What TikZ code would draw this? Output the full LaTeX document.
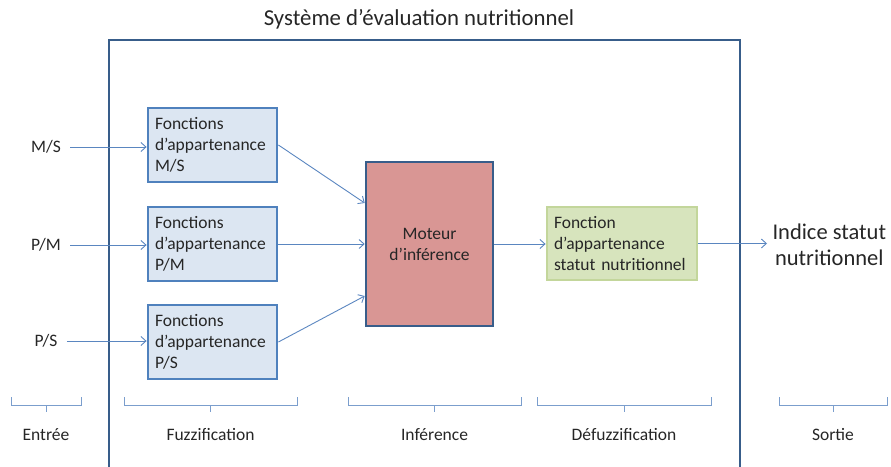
\documentclass[tikz,border=0pt]{standalone}
\usepackage{fontspec}
\setmainfont{Carlito}
\usepackage{xcolor}
\usepackage{tikz}
\usetikzlibrary{arrows.meta, positioning}

\definecolor{frameblue}{HTML}{385D8A}
\definecolor{boxblue}{HTML}{4F81BD}
\definecolor{lineblue}{HTML}{5A86C0}
\definecolor{fuzzfill}{HTML}{DCE6F2}
\definecolor{motorfill}{HTML}{D99694}
\definecolor{defuzfill}{HTML}{D7E4BD}
\definecolor{defuzline}{HTML}{C3D69B}
\definecolor{textgray}{HTML}{262626}

\begin{document}
\begin{tikzpicture}[
  x=1pt, y=-1pt,
  font=\fontsize{17.5}{21}\selectfont, text=textgray,
  fuzzbox/.style={draw=boxblue, line width=2.8pt, fill=fuzzfill,
                  text width=115pt, inner xsep=7pt, minimum height=74pt,
                  align=left},
  motorbox/.style={draw=frameblue, line width=2.6pt, fill=motorfill,
                   minimum width=127pt, minimum height=164pt, align=center},
  defuzbox/.style={draw=defuzline, line width=2.8pt, fill=defuzfill,
                   text width=136pt, inner xsep=7pt, minimum height=73pt,
                   align=left},
  arr/.style={-{Straight Barb[length=5pt, width=9pt]}, draw=lineblue,
              line width=0.9pt},
  brace/.style={draw=lineblue!80, line width=0.8pt},
  phase/.style={font=\fontsize{17.5}{20}\selectfont}
]
  \useasboundingbox (0,0) rectangle (891,466);

  % cadre du systeme, ouvert en bas
  \draw[frameblue, line width=2.6pt] (109,475) -- (109,40) -- (740,40) -- (740,475);
  \node[font=\fontsize{22.8}{26}\selectfont] (titre) at (419,19)
    {Système d’évaluation nutritionnel};

  % entrees
  \node (ems) at (46,147) {M/S};
  \node (epm) at (46,245) {P/M};
  \node (eps) at (46,341) {P/S};

  % fuzzification
  \node[fuzzbox] (fms) at (212.5,145) {Fonctions\\d’appartenance\\M/S};
  \node[fuzzbox] (fpm) at (212.5,244) {Fonctions\\d’appartenance\\P/M};
  \node[fuzzbox] (fps) at (212.5,342) {Fonctions\\d’appartenance\\P/S};

  % inference
  \node[motorbox] (moteur) at (429.5,244) {Moteur\\d’inférence};

  % defuzzification
  \node[defuzbox] (defuz) at (622,243.5)
    {Fonction\\d’appartenance\\statut nutritionnel};

  % sortie
  \node[font=\fontsize{22.5}{26}\selectfont, align=center, anchor=west]
    (indice) at (769,245) {Indice statut\\nutritionnel};

  \draw[arr, shorten <=6pt] (ems.east) -- (fms.west |- ems.east);
  \draw[arr, shorten <=6pt] (epm.east) -- (fpm.west |- epm.east);
  \draw[arr, shorten <=6pt] (eps.east) -- (fps.west |- eps.east);
  \draw[arr] (fms.east) -- ([yshift=41pt]moteur.west);
  \draw[arr] (fpm.east) -- (moteur.west);
  \draw[arr] (fps.east) -- ([yshift=-52pt]moteur.west);
  \draw[arr] (moteur.east) -- (defuz.west |- moteur.east);
  \draw[arr] (defuz.east) -- ([xshift=-2pt]indice.west |- defuz.east);

  % etapes
  \foreach \xa/\xb/\nom/\lab in {11/81/entree/Entrée,
      124/297/fuzzif/Fuzzification, 348/521/infer/Inférence,
      537/711/defuzzif/Défuzzification, 779/887/sortie/Sortie} {
    \draw[brace] (\xa,397) -- (\xa,405) -- (\xb,405) -- (\xb,397)
      ({(\xa+\xb)/2},405) -- ({(\xa+\xb)/2},412);
    \node[phase] (ph-\nom) at ({(\xa+\xb)/2},435) {\lab};
  }
\end{tikzpicture}
\end{document}
